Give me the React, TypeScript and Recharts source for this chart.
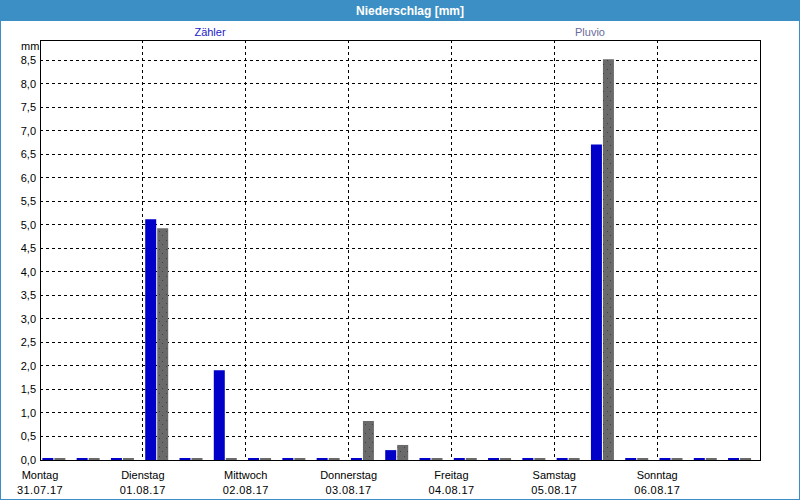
import React from 'react';
import { BarChart, Bar, XAxis, YAxis, CartesianGrid, ReferenceArea } from 'recharts';

// 8-hour slots, 31.07.17 00:00 .. 07.08.17 00:00 (hours since start)
const hours = [0, 8, 16, 24, 32, 40, 48, 56, 64, 72, 80, 88, 96, 104, 112, 120, 128, 136, 144, 152, 160];
const zaehler = [0, 0, 0, 5.12, 0, 1.91, 0, 0, 0, 0, 0.21, 0, 0, 0, 0, 0, 6.71, 0, 0, 0, 0];
const pluvio = [0, 0, 0, 4.93, 0, 0, 0, 0, 0, 0.83, 0.32, 0, 0, 0, 0, 0, 8.52, 0, 0, 0, 0];

const weekdays = ['Montag', 'Dienstag', 'Mittwoch', 'Donnerstag', 'Freitag', 'Samstag', 'Sonntag'];
const dates = ['31.07.17', '01.08.17', '02.08.17', '03.08.17', '04.08.17', '05.08.17', '06.08.17'];
const dayTicks = [0, 24, 48, 72, 96, 120, 144, 168];
const yTicks = [0, 0.5, 1, 1.5, 2, 2.5, 3, 3.5, 4, 4.5, 5, 5.5, 6, 6.5, 7, 7.5, 8, 8.5];
const yMax = 8.93;
const hMax = 168;

const data = hours.map((h, i) => ({ hour: h, zaehler: zaehler[i], pluvio: pluvio[i] }));

const FONT = '"Liberation Sans", Arial, sans-serif';

function DayTick(props: any) {
  const { x, y, payload } = props;
  const i = Math.round(payload.value / 24);
  if (i >= weekdays.length) return null;
  return (
    <text x={x} y={y} textAnchor="middle" fontSize={11} fill="#000" fontFamily={FONT}>
      <tspan x={x} dy={17}>{weekdays[i]}</tspan>
      <tspan x={x} dy={15} letterSpacing={0.4}>{dates[i]}</tspan>
    </text>
  );
}

export default function App() {
  return (
    <div
      style={{
        position: 'relative',
        width: 800,
        height: 500,
        boxSizing: 'border-box',
        border: '1px solid #3c8fc4',
        background: '#fff',
        fontFamily: FONT,
        overflow: 'hidden',
      }}
    >
      <style>{'body{margin:0}'}</style>
      <div
        style={{
          position: 'absolute',
          left: 0,
          top: 0,
          width: 800,
          height: 20,
          background: '#3c8fc4',
        }}
      >
        <span
          style={{
            position: 'absolute',
            left: 409,
            top: 3,
            transform: 'translateX(-50%)',
            color: '#fff',
            fontWeight: 'bold',
            fontSize: 12,
            whiteSpace: 'nowrap',
          }}
        >
          Niederschlag [mm]
        </span>
      </div>
      <span style={{ position: 'absolute', left: 209, top: 25, transform: 'translateX(-50%)', fontSize: 11, color: '#1a1acc' }}>
        Zähler
      </span>
      <span style={{ position: 'absolute', left: 589, top: 25, transform: 'translateX(-50%)', fontSize: 11, color: '#6a6a9a' }}>
        Pluvio
      </span>
      <span style={{ position: 'absolute', left: 20, top: 39, fontSize: 11, color: '#000' }}>mm</span>

      <div style={{ position: 'absolute', left: -1, top: -1 }}>
        <BarChart
          width={800}
          height={500}
          data={data}
          margin={{ top: 40, right: 40, bottom: 0, left: 0 }}
          barGap={1}
          barSize={11}
        >
          <defs>
            <pattern id="dots" width="7" height="9" patternUnits="userSpaceOnUse">
              <rect width="7" height="9" fill="#6a6a6a" />
              <rect x="1" y="1" width="1" height="1" fill="#404048" />
              <rect x="5" y="6" width="1" height="1" fill="#404048" />
            </pattern>
          </defs>
          <XAxis
            xAxisId="slots"
            dataKey="hour"
            hide
            padding={{ left: -3.64, right: 3.64 }}
          />
          <XAxis
            xAxisId="days"
            dataKey="hour"
            type="number"
            domain={[0, hMax]}
            ticks={dayTicks}
            allowDataOverflow
            height={40}
            axisLine={false}
            tickLine={false}
            tickSize={0}
            tickMargin={2}
            interval={0}
            tick={<DayTick />}
          />
          <YAxis
            width={40}
            domain={[0, yMax]}
            ticks={yTicks}
            allowDataOverflow
            axisLine={false}
            tickLine={false}
            tickSize={0}
            tickMargin={4}
            interval={0}
            tick={{ fontSize: 11, fill: '#000', fontFamily: FONT }}
            tickFormatter={(v: number) => v.toFixed(1).replace('.', ',')}
          />
          <CartesianGrid
            xAxisId="days"
            stroke="#000"
            strokeDasharray="3 3"
            shapeRendering="crispEdges"
          />
          <Bar
            xAxisId="slots"
            dataKey="zaehler"
            fill="#0000c8"
            minPointSize={2}
            isAnimationActive={false}
          />
          <Bar
            xAxisId="slots"
            dataKey="pluvio"
            fill="url(#dots)"
            minPointSize={2}
            isAnimationActive={false}
          />
          <ReferenceArea
            xAxisId="days"
            x1={0}
            x2={hMax}
            y1={0}
            y2={yMax}
            fill="none"
            stroke="#000"
            strokeWidth={1}
            shapeRendering="crispEdges"
            ifOverflow="visible"
          />
        </BarChart>
      </div>
    </div>
  );
}
